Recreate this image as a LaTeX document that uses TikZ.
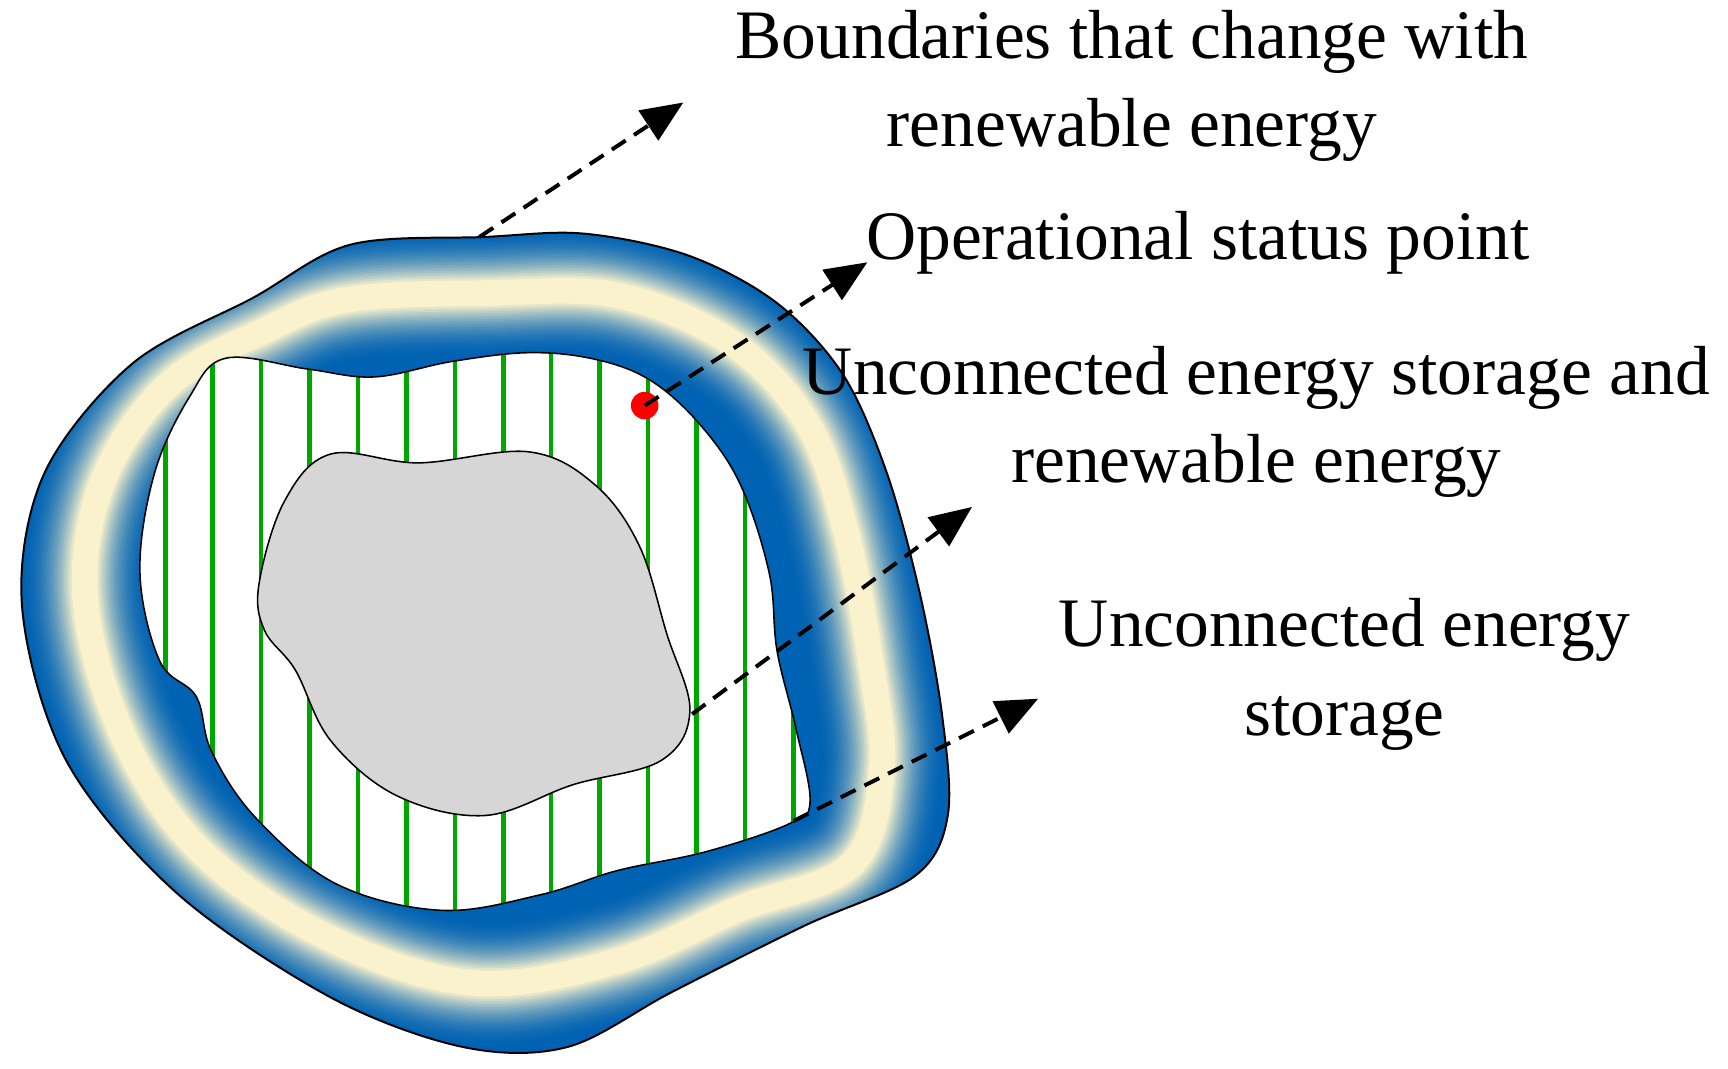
\documentclass[tikz,border=0pt]{standalone}
\usepackage{fontspec}
\setmainfont{Liberation Serif}
\usetikzlibrary{arrows.meta}
\begin{document}
\begin{tikzpicture}[x=1pt,y=-1pt,
  lbl/.style={font=\fontsize{63}{80}\selectfont,align=center,inner sep=0},
  conn/.style={line width=3.6pt,dash pattern=on 15pt off 9pt,-{Triangle[length=38pt,width=32pt]}}]
\useasboundingbox (0,0) rectangle (1568,970);
\definecolor{rb}{RGB}{0,98,178}
\definecolor{rc}{RGB}{250,242,205}
\def\outerp{plot[smooth cycle,tension=0.55] coordinates{(318,222)(440,215)(530,212)(625,232)(705,275)(765,340)(805,430)(835,540)(855,650)(860,740)(830,795)(730,840)(610,900)(515,950)(420,950)(300,905)(160,810)(60,690)(20,550)(40,430)(120,330)(230,270)}}
\def\innerp{plot[smooth cycle,tension=0.6] coordinates{(205,325)(280,335)(340,342)(410,328)(480,320)(540,326)(590,345)(635,385)(672,440)(698,520)(705,590)(722,660)(735,728)(715,748)(640,773)(560,790)(490,812)(400,826)(305,802)(232,742)(192,682)(178,632)(145,600)(127,520)(140,430)(172,360)}}
\def\midp{plot[smooth cycle,tension=0.6] coordinates{(315,272)(440,266)(560,268)(665,312)(733,385)(767,480)(790,600)(800,700)(772,785)(670,825)(560,872)(430,892)(300,852)(185,775)(115,675)(78,550)(92,440)(152,350)(240,300)}}
\begin{scope}
  \clip \outerp;
  \fill[rb] \outerp;
  \foreach \i in {0,...,24}{
    \pgfmathsetmacro\w{120-4.6*\i}
    \pgfmathsetmacro\p{min(100,\i*\i/4.4)}
    \draw[line width=\w pt,color=rc!\p!rb] \midp;}
\end{scope}
\draw[line width=1.8pt] \outerp;
\fill[white] \innerp;
\begin{scope}
  \clip \innerp;
  \foreach \x in {150,193,237,281,325,369,413,457,500,544,588,632,676,720}
    \draw[line width=4pt,color=green!65!black] (\x,300) -- (\x,850);
\end{scope}
\draw[line width=1.4pt] \innerp;
\draw[line width=1.4pt,fill=black!16] plot[smooth cycle,tension=0.6] coordinates{(235,530)(258,455)(300,412)(380,420)(480,410)(540,440)(580,495)(605,575)(626,645)(600,690)(520,712)(440,740)(360,722)(300,672)(268,608)(240,572)};
\node[lbl] (t1) at (1027,78) {Boundaries that change with\\renewable energy};
\node[lbl] (t2) at (1087,220) {Operational status point};
\node[lbl] (t3) at (1140,383) {Unconnected energy storage and\\renewable energy};
\node[lbl] (t4) at (1220,612) {Unconnected energy\\storage};
\coordinate (a1) at (435,215); \coordinate (b1) at (620,93);
\node[circle,fill=red,inner sep=0,minimum size=25pt] (dot) at (585,368) {};
\coordinate (b2) at (787,238);
\coordinate (a3) at (628,648); \coordinate (b3) at (882,460);
\coordinate (a4) at (720,745); \coordinate (b4) at (942,634);
\draw[conn] (a1) -- (b1);
\draw[conn] (dot.center) -- (b2);
\draw[conn] (a3) -- (b3);
\draw[conn] (a4) -- (b4);
\end{tikzpicture}
\end{document}
